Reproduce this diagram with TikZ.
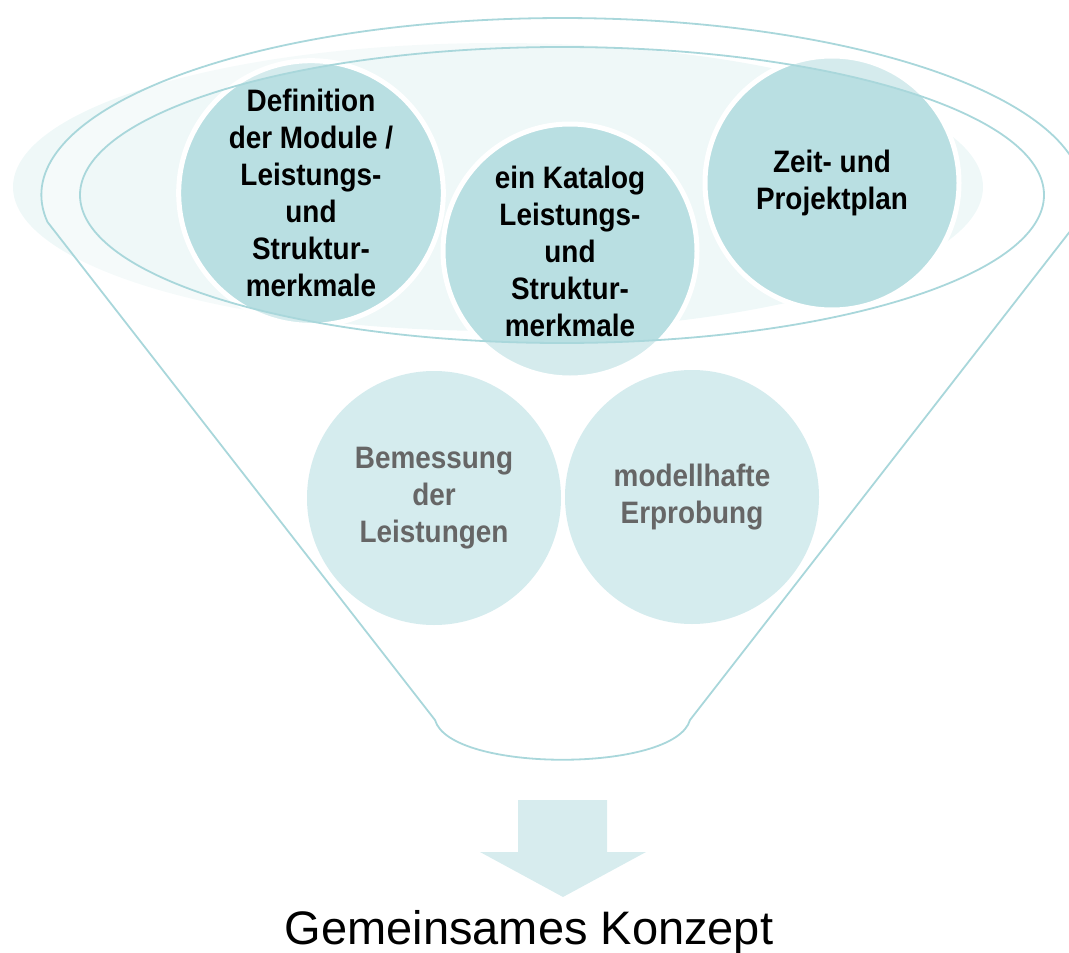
\documentclass[tikz,border=0pt]{standalone}
\usepackage{fontspec}
\setmainfont{Liberation Sans}
\newfontfamily\cb[FakeStretch=0.9]{Liberation Sans}
\definecolor{rimline}{HTML}{A9D7DB}
\definecolor{circfill}{HTML}{B9DFE2}
\definecolor{circlight}{HTML}{D5ECEE}
\definecolor{bgfill}{HTML}{EFF8F8}
\definecolor{arrowfill}{HTML}{D7ECEE}
\definecolor{greytext}{HTML}{666666}
\tikzset{
  topic/.style={circle, minimum size=254pt, inner sep=0pt, align=center,
    fill=circfill, draw=white, line width=5pt,
    font=\cb\bfseries\fontsize{31}{37}\selectfont},
  lowtopic/.style={topic, fill=circlight, draw=none, text=greytext},
  rim/.style={draw=rimline, line width=1.8pt}
}
\begin{document}
\begin{tikzpicture}[x=1pt,y=1pt]
\useasboundingbox (0,0) rectangle (1069,-953);
% light background ellipse
\fill[bgfill] (498,-187) ellipse [x radius=485pt, y radius=144pt];
% upper circles
\node[topic] (def) at (311,-193) {Definition\\der Module /\\Leistungs-\\und\\Struktur-\\merkmale};
\node[topic] (zeit) at (832,-183) {Zeit- und\\Projektplan};
\node[topic] (kat) at (570,-251) {ein Katalog\\Leistungs-\\und\\Struktur-\\merkmale};
% funnel body overlay (outside the inner rim ellipse)
\coordinate (bl) at (435,-720);
\coordinate (br) at (690,-720);
\coordinate (lt) at (47.5,-222);
\fill[white, fill opacity=0.4, even odd rule]
  (bl) -- (lt) arc[start angle=188.77, end angle=-8.77, x radius=521pt, y radius=177pt]
  -- (br) .. controls (675,-773) and (450,-773) .. (bl) -- cycle
  (562,-195) ellipse [x radius=482pt, y radius=148pt];
% lower circles
\node[lowtopic] (bem) at (434,-498) {Bemessung\\der\\Leistungen};
\node[lowtopic] (mod) at (692,-497) {modellhafte\\Erprobung};
% funnel outlines
\draw[rim, line join=round]
  (bl) -- (lt) arc[start angle=188.77, end angle=-8.77, x radius=521pt, y radius=177pt]
  -- (br) .. controls (675,-773) and (450,-773) .. (bl);
\draw[rim] (562,-195) ellipse [x radius=482pt, y radius=148pt];
% arrow
\fill[arrowfill] (518,-800) -- (607,-800) -- (607,-852) -- (646,-852) -- (563,-897)
  -- (480,-852) -- (518,-852) -- cycle;
\node[anchor=base, inner sep=0pt, font=\fontsize{47}{56}\selectfont] (res) at (529,-944) {Gemeinsames Konzept};
\end{tikzpicture}
\end{document}
